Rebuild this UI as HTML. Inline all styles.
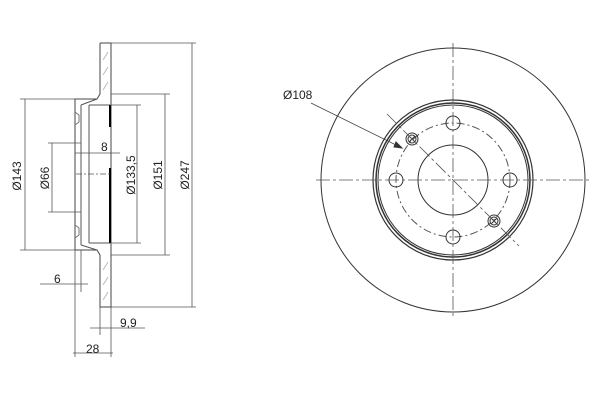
<!DOCTYPE html>
<html><head><style>body{margin:0;background:#fff}svg{display:block}text{font-family:"Liberation Sans",sans-serif;font-size:12px;fill:#222;stroke:none}</style></head><body>
<svg width="600" height="400" viewBox="0 0 600 400" stroke="#333" fill="none" stroke-width="1">
<path d="M100,43 H111 V94 M100,43 V94 L97,99 H75 V250 H97 L100,255 V307 H111 V255" stroke="#444"/>
<path d="M111,94 V255" stroke="#444"/>
<path d="M81,105 V245 M81,105 L97,99 M81,245 L97,250 M89,105 V243 M89,105 H110 M89,243 H110" stroke="#555"/>
<path d="M75,112 L79,115 V122 L75,125 M75,225 L79,228 V235 L75,238" stroke="#777"/>
<path d="M110,105 V127 M110,168 V243" stroke="#000" stroke-width="2"/>
<path d="M103,60 L108,52 M103,75 L108,67 M103,90 L108,82 M103,270 L108,262 M103,285 L108,277 M103,300 L108,292" stroke="#bbb"/>
<g stroke="#555" stroke-width="0.8">
<path d="M111,43 H196 M111,307 H196 M192,43 V307"/>
<path d="M111,94 H170 M111,255 H170 M165,94 V255"/>
<path d="M110,105 H141 M110,243 H141 M137,105 V243"/>
<path d="M75,99 H20 M75,250 H20 M25,99 V250"/>
<path d="M81,143 H48 M81,212 H48 M52,143 V212"/>
<path d="M75,153 H120 M75,250 V357 M111,307 V357 M73,353 H113"/>
<path d="M81,250 V292 M40,284 H88 M100,307 V335 M90,328 H145"/>
<path d="M76,174 H110" stroke-dasharray="6,2,2,2"/>
</g>
<text x="101" y="151">8</text>
<text x="54" y="283">6</text>
<text x="120" y="327">9,9</text>
<text x="86" y="353">28</text>
<text transform="translate(21,176) rotate(-90)" text-anchor="middle">Ø143</text>
<text transform="translate(49,178) rotate(-90)" text-anchor="middle">Ø66</text>
<text transform="translate(135,175) rotate(-90)" text-anchor="middle">Ø133,5</text>
<text transform="translate(162,175) rotate(-90)" text-anchor="middle">Ø151</text>
<text transform="translate(189,175) rotate(-90)" text-anchor="middle">Ø247</text>
<g transform="translate(453,180)">
<circle r="132"/>
<circle r="80" stroke-width="1.2"/>
<circle r="77" stroke-width="1.5"/>
<circle r="75"/>
<circle r="57" stroke-dasharray="8,3,2,3" stroke="#555"/>
<circle r="35"/>
<circle cx="57" r="7"/><circle cx="-57" r="7"/><circle cy="57" r="7"/><circle cy="-57" r="7"/>
<circle cx="-41" cy="-41" r="6"/><circle cx="-41" cy="-41" r="4"/>
<path d="M-44,-44 L-38,-38 M-38,-44 L-44,-38"/>
<circle cx="41" cy="41" r="6"/><circle cx="41" cy="41" r="4"/>
<path d="M38,38 L44,44 M44,38 L38,44"/>
<path d="M-137,0 H137 M0,-137 V137" stroke="#555" stroke-width="0.8" stroke-dasharray="14,3,3,3"/>
<path d="M-66,-66 L66,66" stroke="#555" stroke-width="0.8" stroke-dasharray="14,3,3,3"/>
</g>
<path d="M311,103 L402,148" stroke="#444" stroke-width="0.8"/>
<path d="M402,148 L396,142 L394,147 Z" fill="#333"/>
<text x="283" y="99">Ø108</text>
</svg>
</body></html>
